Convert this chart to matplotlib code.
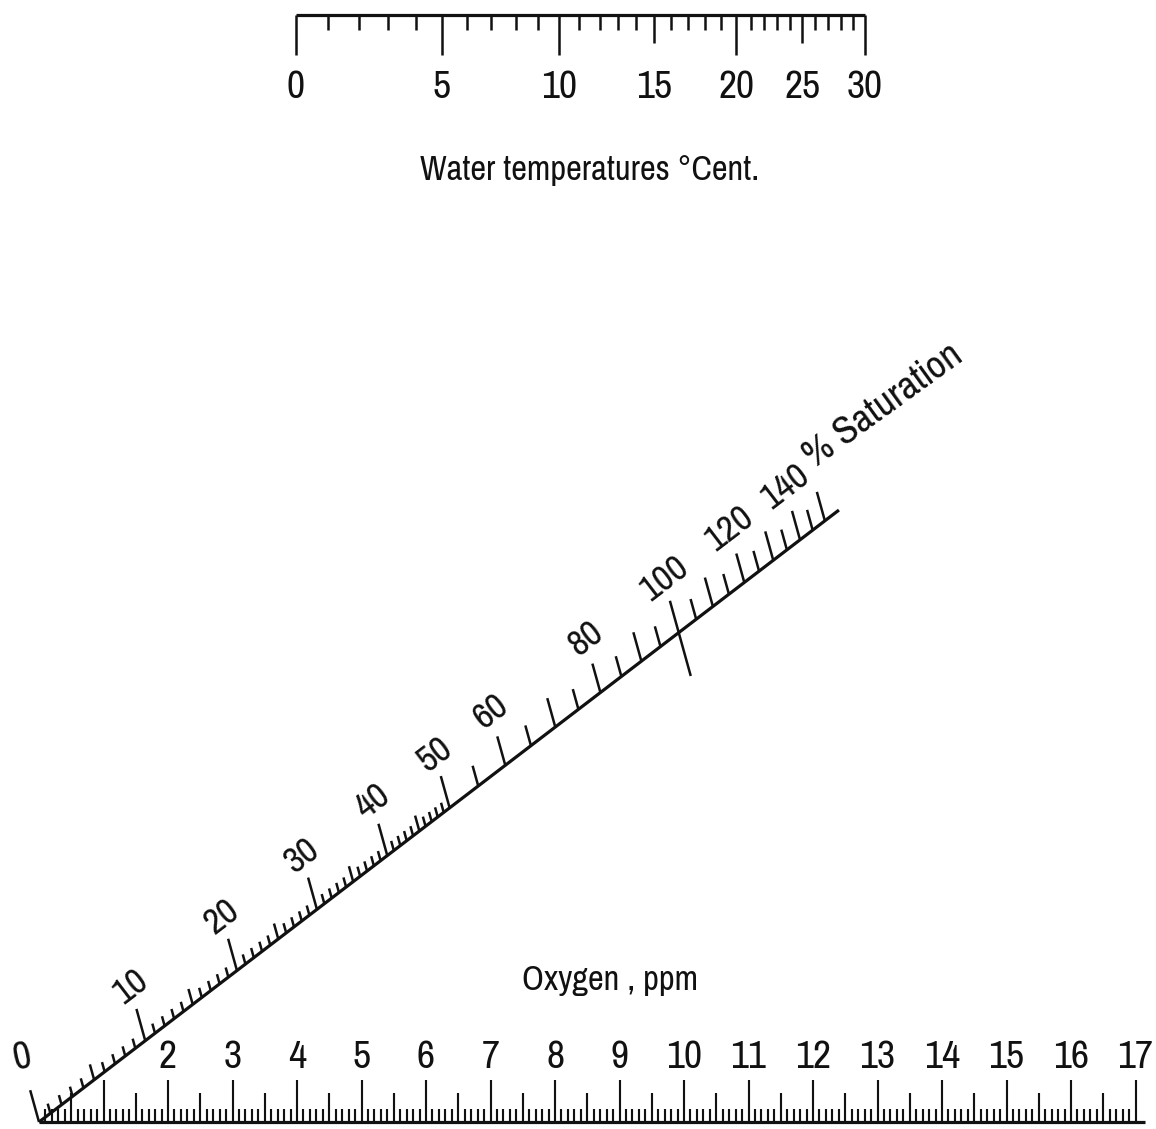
import numpy as np
import matplotlib
matplotlib.use("Agg")
import matplotlib.pyplot as plt

# ---------------- data ----------------
temp_c = list(range(0, 31))
# oxygen solubility (ppm) at each temperature
o2_solubility = [14.62, 14.23, 13.85, 13.49, 13.15, 12.83, 12.52, 12.22, 11.92, 11.65,
                 11.39, 11.14, 10.89, 10.66, 10.44, 10.22, 10.01, 9.80, 9.60, 9.40,
                 9.21, 9.03, 8.87, 8.71, 8.55, 8.40, 8.24, 8.08, 7.93, 7.78, 7.63]
temp_labels = [0, 5, 10, 15, 20, 25, 30]
temp_long = [0, 5, 10, 20, 30]
temp_mid = [15, 25]

oxygen_labels = [2, 3, 4, 5, 6, 7, 8, 9, 10, 11, 12, 13, 14, 15, 16, 17]
oxygen_max = 17

sat_labels = [10, 20, 30, 40, 50, 60, 80, 100, 120, 140]
sat_fine = list(range(0, 50))            # 1 % steps
sat_coarse = list(range(50, 155, 5))     # 5 % steps
sat_end = 156

title_top = "Water temperatures \u00b0Cent."
title_bottom = "Oxygen , ppm"
title_sat = "% Saturation"

# ---------------- layout (pixel space) ----------------
W, H = 1156, 1129
TOP_Y, BOT_Y = 15, 1122
TOP_X0, TOP_PX = 296, 81.4      # x of S = 14.62, px per ppm
S0 = o2_solubility[0]
BOT_X0, BOT_PX = 39, 64.5        # x of 0 ppm, px per ppm

FONT = ["Pragati Narrow", "Roboto Condensed", "DejaVu Sans"]
FS_TICK = 31
FS_SAT = 29
FS_TITLE = 27
LW_MAIN = 2.3
LW_TICK = 1.8
INK = "#111111"


def x_top(s):
    return TOP_X0 + (S0 - np.asarray(s)) * TOP_PX


def x_bot(o):
    return BOT_X0 + np.asarray(o) * BOT_PX


def sat_point(pct):
    """Intersection point of all lines joining S (top) and O=k*S (bottom)."""
    k = np.asarray(pct) / 100.0
    ax_ = x_top(0.0)           # S = 0 pivot on top
    bx_ = x_bot(0.0)           # O = 0 on bottom
    t = TOP_PX / (TOP_PX + BOT_PX * k)
    x = ax_ + t * (bx_ - ax_)
    y = TOP_Y + t * (BOT_Y - TOP_Y)
    return x, y


fig = plt.figure(figsize=(W / 100, H / 100), dpi=100)
ax = fig.add_axes([0, 0, 1, 1])
ax.set_xlim(0, W)
ax.set_ylim(H, 0)
ax.axis("off")

# ---------------- top temperature scale ----------------
ax.plot([x_top(o2_solubility[0]), x_top(o2_solubility[-1])], [TOP_Y, TOP_Y],
        color=INK, lw=LW_MAIN, solid_capstyle="butt")
for t, s in zip(temp_c, o2_solubility):
    if t in temp_long:
        L = 40
    elif t in temp_mid:
        L = 28
    else:
        L = 15
    xx = float(x_top(s))
    ax.plot([xx, xx], [TOP_Y, TOP_Y + L], color=INK, lw=LW_TICK, solid_capstyle="butt")
for t in temp_labels:
    xx = float(x_top(o2_solubility[t]))
    ax.text(xx, 88, str(t), ha="center", va="center", fontsize=FS_TICK, family=FONT, color=INK)
ax.text(590, 170, title_top, ha="center", va="center", fontsize=FS_TITLE, family=FONT, color=INK)

# ---------------- bottom oxygen scale ----------------
ax.plot([x_bot(0), x_bot(oxygen_max) + 9], [BOT_Y, BOT_Y], color=INK, lw=LW_MAIN,
        solid_capstyle="butt")
for i in range(1, oxygen_max * 10 + 1):
    o = i / 10.0
    if i % 10 == 0:
        L = 42
    elif i % 5 == 0:
        L = 29
    else:
        L = 13
    xx = float(x_bot(o))
    ax.plot([xx, xx], [BOT_Y, BOT_Y - L], color=INK, lw=LW_TICK * 0.85, solid_capstyle="butt")
for o in oxygen_labels:
    ax.text(float(x_bot(o)), 1058, str(o), ha="center", va="center", fontsize=FS_TICK,
            family=FONT, color=INK)
ax.text(610, 980, title_bottom, ha="center", va="center", fontsize=FS_TITLE, family=FONT, color=INK)

# ---------------- saturation scale ----------------
ang = np.deg2rad(15.5)
d = np.array([-np.sin(ang), -np.cos(ang)])   # tick direction (upwards, leaning)
x0, y0 = sat_point(0)
x1, y1 = sat_point(sat_end)
ax.plot([x0, x1], [y0, y1], color=INK, lw=LW_MAIN, solid_capstyle="butt")
line_ang = np.degrees(np.arctan2(y0 - y1, x1 - x0))

for p in sat_fine + sat_coarse:
    px, py = sat_point(p)
    if p == 100:
        a, b = -45, 33
    elif p % 10 == 0:
        a, b = 0, 33 if p <= 50 else 30
    elif p % 5 == 0:
        a, b = 0, 16 if p < 50 else 21
    else:
        a, b = 0, 10
    ax.plot([px + a * d[0], px + b * d[0]], [py + a * d[1], py + b * d[1]],
            color=INK, lw=LW_TICK, solid_capstyle="butt")

for p in sat_labels:
    px, py = sat_point(p)
    off = 56
    ax.text(px + off * d[0], py + off * d[1], str(p), ha="center", va="center",
            rotation=line_ang, rotation_mode="anchor", fontsize=FS_SAT, family=FONT, color=INK)
# zero label of the combined origin
px, py = sat_point(0)
ax.text(px - 17, py - 64, "0", ha="center", va="center", rotation=12,
        rotation_mode="anchor", fontsize=FS_TICK, family=FONT, color=INK)
ax.text(808, 460, title_sat, ha="left", va="center", rotation=line_ang - 1.5,
        rotation_mode="anchor", fontsize=FS_TICK, family=FONT, color=INK)

fig.savefig("out.png", dpi=100, facecolor="white")
